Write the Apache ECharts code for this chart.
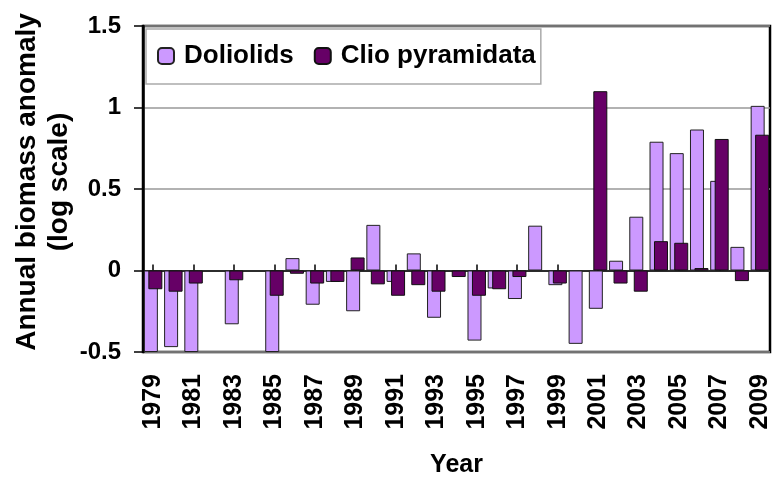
<!DOCTYPE html>
<html>
<head>
<meta charset="utf-8">
<script src="https://cdn.jsdelivr.net/npm/echarts@6/dist/echarts.min.js"></script>
<style>
  html, body { margin: 0; padding: 0; background: #fff; }
  #chart { width: 772px; height: 477px; }
</style>
</head>
<body>
<div id="chart"></div>
<script>
// 年份
const years = ["1979", "1980", "1981", "1982", "1983", "1984", "1985", "1986", "1987", "1988",
  "1989", "1990", "1991", "1992", "1993", "1994", "1995", "1996", "1997", "1998",
  "1999", "2000", "2001", "2002", "2003", "2004", "2005", "2006", "2007", "2008", "2009"];
// Doliolids
const doliolids = [-0.5, -0.47, -0.5, null, -0.33, null, -0.5, 0.076, -0.21, -0.07,
  -0.25, 0.28, -0.07, 0.105, -0.29, null, -0.43, -0.11, -0.175, 0.275,
  -0.09, -0.45, -0.235, 0.06, 0.33, 0.79, 0.72, 0.865, 0.55, 0.145, 1.01];
// Clio pyramidata
const clio = [-0.115, -0.13, -0.08, null, -0.06, null, -0.155, -0.02, -0.08, -0.07,
  0.08, -0.085, -0.155, -0.09, -0.13, -0.04, -0.155, -0.115, -0.04, null,
  -0.08, null, 1.1, -0.08, -0.13, 0.18, 0.17, 0.015, 0.807, -0.065, 0.833];

const font = "'Liberation Sans', Arial, sans-serif";

let myChart = echarts.init(document.getElementById("chart"));
myChart.setOption({
  animation: false,
  textStyle: { fontFamily: font },
  grid: {
    left: 143,
    right: 2,
    top: 26,
    bottom: 125,
    show: true,
    borderColor: "#000",
    borderWidth: 2.5,
    outerBoundsMode: "none",
  },
  legend: {
    left: 146,
    top: 29,
    padding: [12, 5, 13, 11],
    itemWidth: 16,
    itemHeight: 16,
    itemGap: 20,
    backgroundColor: "#fff",
    borderColor: "#aaa",
    borderWidth: 1.5,
    textStyle: {
      fontFamily: font,
      fontSize: 26,
      fontWeight: "bold",
      color: "#000",
      lineHeight: 30,
      padding: [0, 0, 0, 5],
    },
    data: ["Doliolids", "Clio pyramidata"],
  },
  xAxis: [
    {
      // 底部年份标签
      type: "category",
      data: years,
      position: "bottom",
      axisLine: { show: false, onZero: false },
      axisTick: { show: false },
      axisLabel: {
        interval: 1,
        rotate: 90,
        margin: 22,
        fontSize: 25,
        fontWeight: "bold",
        color: "#000",
        fontFamily: font,
      },
      name: "Year",
      nameLocation: "middle",
      nameGap: 101,
      nameMoveOverlap: false,
      nameTextStyle: { fontSize: 25, fontWeight: "bold", color: "#000", fontFamily: font },
    },
    {
      // 零线
      type: "category",
      data: years,
      position: "top",
      axisLine: { onZero: true, lineStyle: { color: "#000", width: 1.5 } },
      axisTick: { show: true, alignWithLabel: true, length: 6, lineStyle: { color: "#000", width: 1.5 } },
      axisLabel: { show: false },
    },
  ],
  yAxis: {
    type: "value",
    min: -0.5,
    max: 1.5,
    interval: 0.5,
    axisLine: { show: true, lineStyle: { color: "#000", width: 2.5 } },
    axisTick: { show: true, length: 9, lineStyle: { color: "#000", width: 1.5 } },
    axisLabel: { margin: 22, fontSize: 24, fontWeight: "bold", color: "#000", fontFamily: font },
    splitLine: { lineStyle: { color: "#999", width: 1.5 } },
    name: "Annual biomass anomaly\n(log scale)",
    nameLocation: "middle",
    nameRotate: 90,
    nameGap: 68,
    nameMoveOverlap: false,
    nameTextStyle: {
      fontSize: 28,
      fontWeight: "bold",
      color: "#000",
      lineHeight: 32,
      fontFamily: font,
      padding: [0, 0, 0, 14],
    },
  },
  series: [
    {
      name: "Doliolids",
      type: "bar",
      xAxisIndex: 0,
      data: doliolids,
      barWidth: 14,
      barGap: "-68%",
      itemStyle: { color: "#cc99ff", borderColor: "#222", borderWidth: 1 },
    },
    {
      name: "Clio pyramidata",
      type: "bar",
      xAxisIndex: 0,
      data: clio,
      barWidth: 14,
      barGap: "-68%",
      itemStyle: { color: "#660066", borderColor: "#111", borderWidth: 1 },
    },
  ],
});
</script>
</body>
</html>
